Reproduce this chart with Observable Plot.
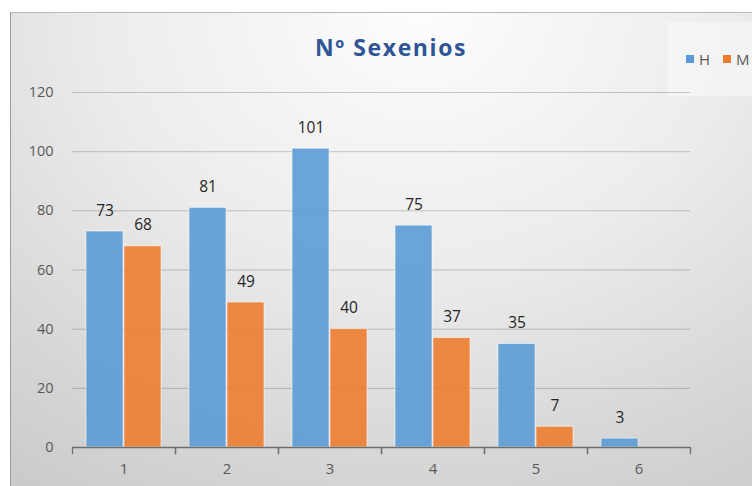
<!DOCTYPE html>
<html>
<head>
<meta charset="utf-8">
<script src="https://cdn.jsdelivr.net/npm/d3@7"></script>
<script src="https://cdn.jsdelivr.net/npm/@observablehq/plot@0.6"></script>
<style>
  html, body { margin: 0; padding: 0; background: #fff; }
  #sheet {
    position: relative; width: 752px; height: 486px; overflow: hidden;
    background: #fff; font-family: "Open Sans", sans-serif;
  }
  #chart {
    position: absolute; left: 10px; top: 12px; right: 0; bottom: 0;
    border-left: 1px solid #9a9a9a; border-top: 1px solid #b8b8b8;
    background: radial-gradient(ellipse 95% 120% at 55% 0%, #fdfdfd 0%, #ececec 45%, #d6d6d6 80%, #cbcbcb 100%);
  }
  #title {
    position: absolute; left: 0; width: 782px; top: 31px; text-align: center;
    font-size: 23px; font-weight: 700; color: #2f5597; letter-spacing: 1.6px;
  }
  #legend {
    position: absolute; left: 668px; top: 22px; width: 100px; height: 74px;
    background: rgba(248,248,248,0.6);
    display: flex; align-items: center; gap: 13px; padding-left: 18px; box-sizing: border-box;
    font-size: 15px; color: #595959;
  }
  #legend span { display: inline-flex; align-items: center; gap: 5px; }
  #legend i { display: inline-block; width: 8px; height: 8px; }
  #plot { position: absolute; left: 0; top: 70px; }
</style>
</head>
<body>
<div id="sheet">
  <div id="chart"></div>
  <div id="title">Nº Sexenios</div>
  <div id="legend"></div>
  <div id="plot"></div>
</div>
<script>
// Número de sexenios por sexo
const categories = ["1", "2", "3", "4", "5", "6"];
const seriesNames = ["H", "M"];
const valuesH = [73, 81, 101, 75, 35, 3];
const valuesM = [68, 49, 40, 37, 7, null];
const yTicks = [0, 20, 40, 60, 80, 100, 120];
const colors = ["#5b9bd5", "#ed7d31"];

const rows = [];
categories.forEach((c, i) => {
  rows.push({cat: c, serie: "H", value: valuesH[i]});
  if (valuesM[i] != null) rows.push({cat: c, serie: "M", value: valuesM[i]});
});

// legend
const legend = document.getElementById("legend");
seriesNames.forEach((s, i) => {
  const el = document.createElement("span");
  el.innerHTML = `<i style="background:${colors[i]}"></i>${s}`;
  legend.appendChild(el);
});

const chart = Plot.plot({
  width: 752,
  height: 416,
  marginLeft: 72,
  marginRight: 62,
  marginTop: 22,
  marginBottom: 39,
  style: {background: "transparent", fontFamily: "'Open Sans', sans-serif", overflow: "visible"},
  fx: {domain: categories, padding: 0, label: null, axis: null},
  x: {domain: seriesNames, paddingInner: 0.02, paddingOuter: 0.34, axis: null},
  y: {domain: [0, 120], ticks: yTicks, label: null},
  color: {domain: seriesNames, range: colors},
  marks: [
    Plot.ruleY(yTicks.filter(d => d > 0), {stroke: "#000", strokeOpacity: 0.2}),
    Plot.barY(rows, {fx: "cat", x: "serie", y: "value", fill: "serie", fillOpacity: 0.9,
      stroke: "#fff", strokeOpacity: 0.55, strokeWidth: 1}),
    Plot.text(rows, {fx: "cat", x: "serie", y: "value", text: d => String(d.value),
      dy: -21, fontSize: 15.5, fill: "#262626"}),
    Plot.ruleY([0], {stroke: "#6e6e6e", strokeWidth: 1.3}),
    // category boundary tick marks below the axis line
    Plot.frame({anchor: "left", stroke: "#6e6e6e", strokeWidth: 1.3, insetTop: 355, insetBottom: -6}),
    Plot.frame({anchor: "right", stroke: "#6e6e6e", strokeWidth: 1.3, insetTop: 355, insetBottom: -6}),
    Plot.axisY({ticks: yTicks, tickSize: 0, tickPadding: 19, fontSize: 14.5, fill: "#595959", label: null}),
    Plot.axisFx({anchor: "bottom", tickSize: 0, tickPadding: 16, fontSize: 15, fill: "#595959", label: null})
  ]
});
document.getElementById("plot").appendChild(chart);
</script>
</body>
</html>
